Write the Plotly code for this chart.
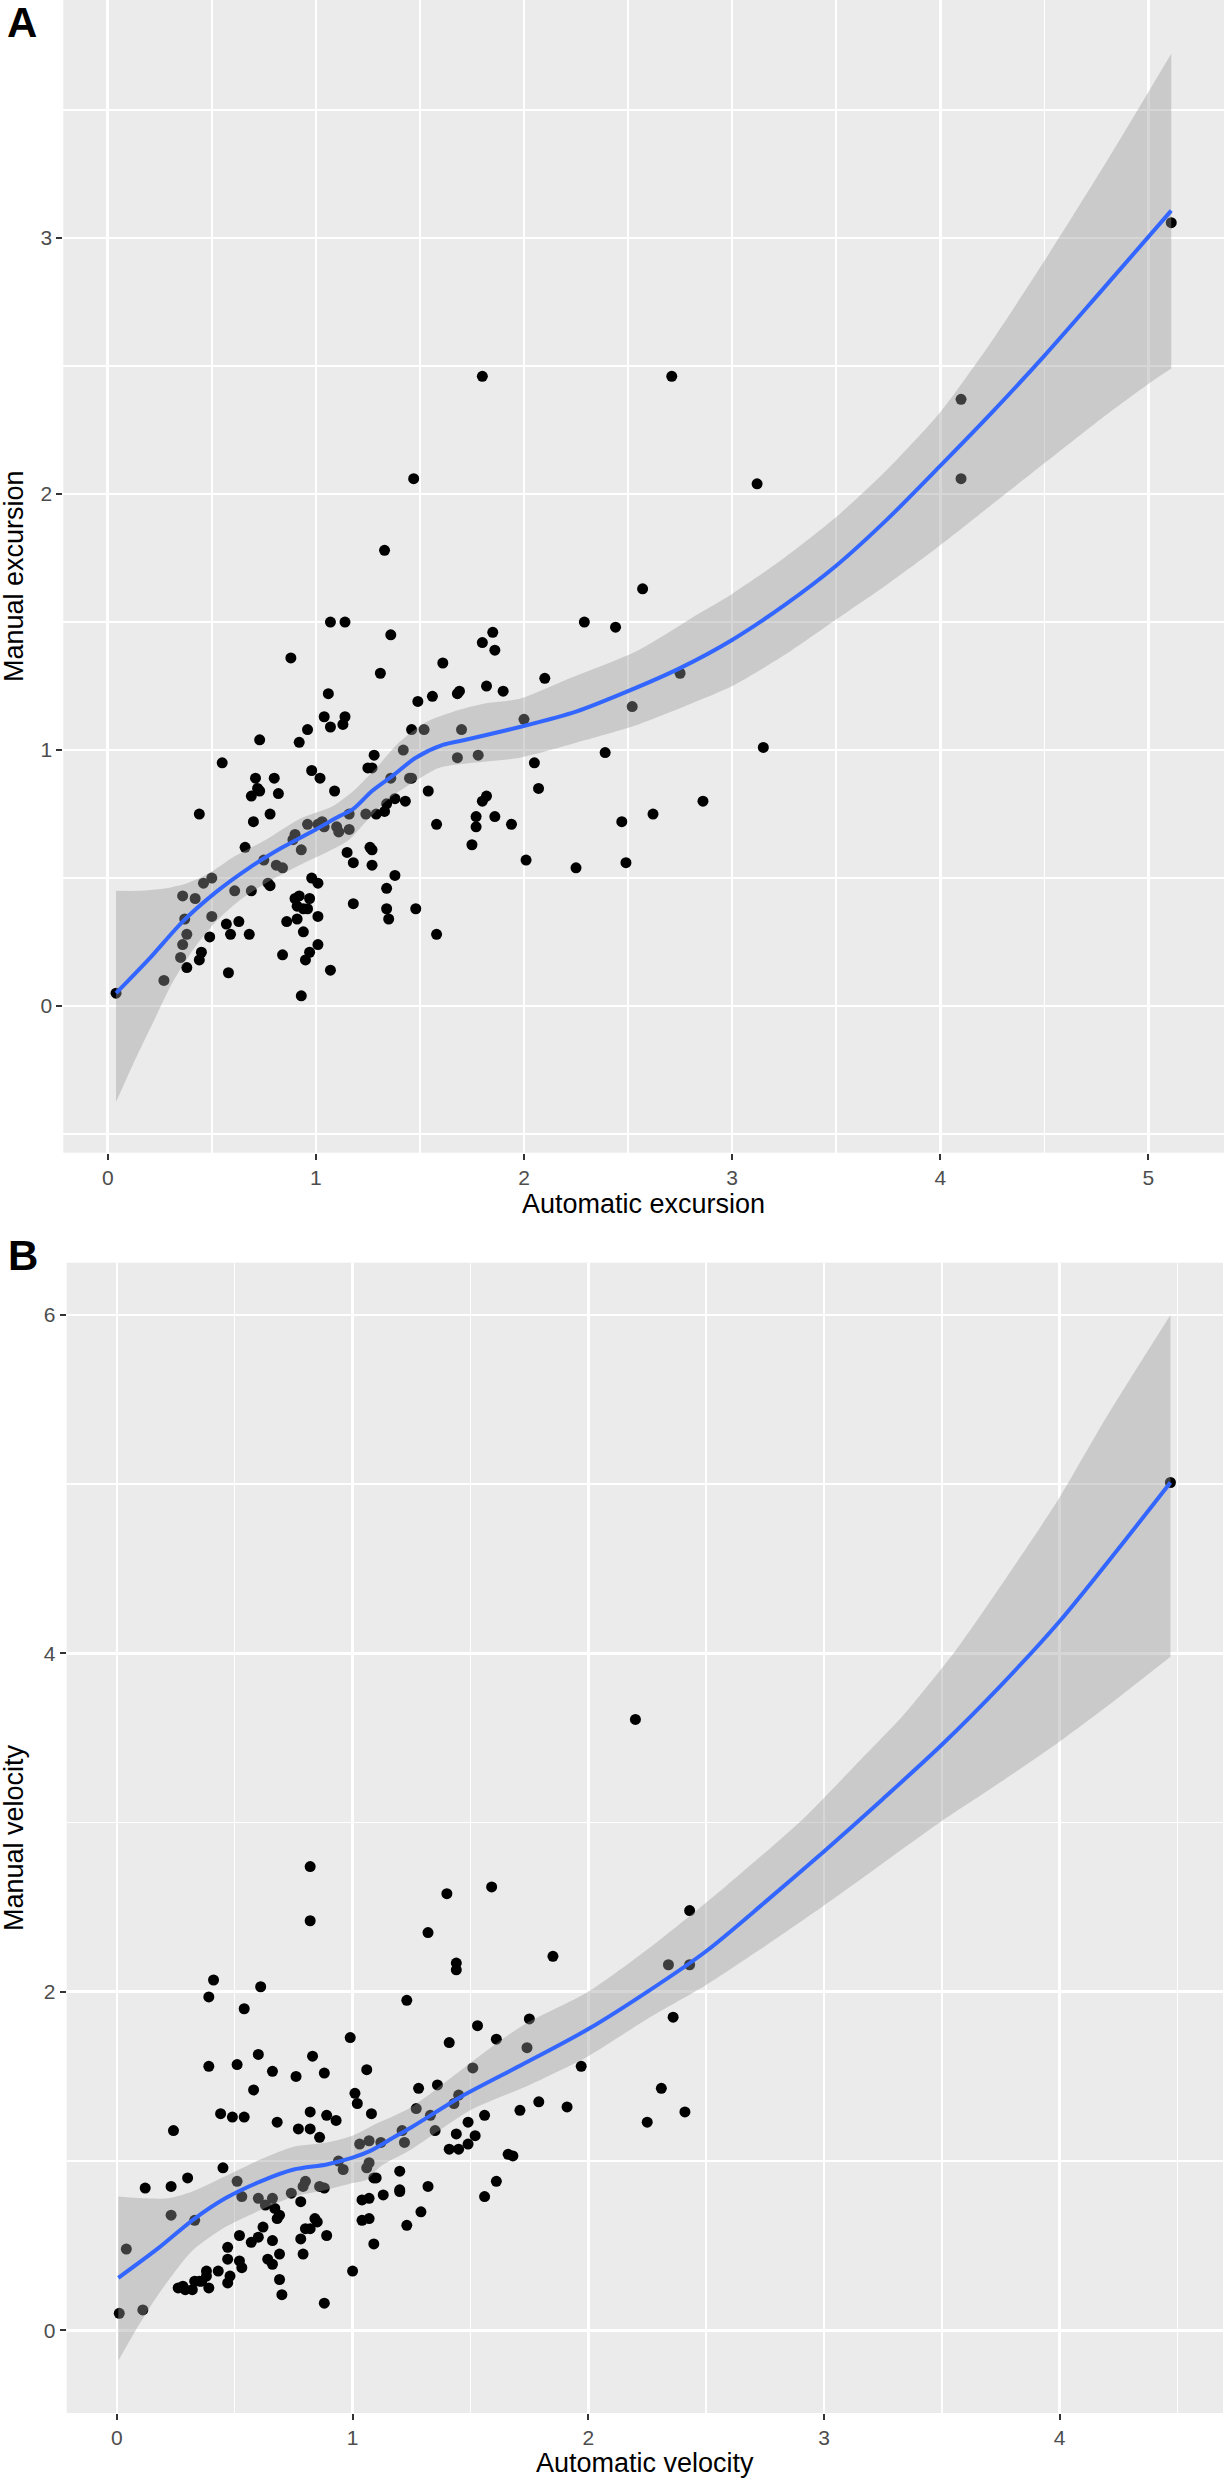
import plotly.graph_objects as go

W, H = 1225, 2480

# ---------------- Panel A: excursion ----------------
exc_auto = [0.04, 0.27, 0.35, 0.36, 0.38, 0.44, 0.45, 0.49, 0.38, 0.37,
            0.36, 0.42, 0.46, 0.50, 0.50, 0.44, 0.55, 0.57, 0.59, 0.58,
            0.61, 0.63, 0.66, 0.68, 0.69, 0.69, 0.71, 0.70, 0.72, 0.73,
            0.73, 0.75, 0.77, 0.78, 0.78, 0.80, 0.82, 0.81, 0.84, 0.84,
            0.86, 0.88, 0.89, 0.90, 0.90, 0.91, 0.91, 0.92, 0.92, 0.93,
            0.94, 0.93, 0.94, 0.95, 0.96, 0.97, 0.97, 0.96, 0.96, 0.98,
            0.98, 1.01, 1.01, 1.01, 1.01, 1.02, 1.03, 1.04, 1.04, 1.06,
            1.07, 1.07, 1.07, 1.09, 1.10, 1.11, 1.13, 1.14, 1.14, 1.15,
            1.16, 1.16, 1.18, 1.18, 1.24, 1.25, 1.26, 1.27, 1.27, 1.27,
            1.28, 1.29, 1.31, 1.33, 1.33, 1.34, 1.34, 1.34, 1.35, 1.36,
            1.36, 1.38, 1.38, 1.42, 1.43, 1.45, 1.46, 1.46, 1.47, 1.48,
            1.49, 1.52, 1.54, 1.56, 1.58, 1.58, 1.61, 1.68, 1.69, 1.68,
            1.70, 1.75, 1.77, 1.77, 1.78, 1.80, 1.80, 1.80, 1.82, 1.82,
            1.85, 1.86, 1.86, 1.90, 1.94, 2.00, 2.01, 2.05, 2.07, 2.10,
            2.25, 2.29, 2.39, 2.44, 2.47, 2.49, 2.52, 2.57, 2.62, 2.71,
            2.75, 2.86, 3.12, 3.15, 4.10, 4.10, 5.11]
exc_manual = [0.05, 0.10, 0.19, 0.24, 0.15, 0.18, 0.21, 0.27, 0.28, 0.34,
              0.43, 0.42, 0.48, 0.50, 0.35, 0.75, 0.95, 0.32, 0.28, 0.13,
              0.45, 0.33, 0.62, 0.28, 0.45, 0.82, 0.89, 0.72, 0.85, 1.04,
              0.84, 0.57, 0.48, 0.47, 0.75, 0.89, 0.83, 0.55, 0.54, 0.20,
              0.33, 1.36, 0.65, 0.67, 0.42, 0.39, 0.34, 0.43, 1.03, 0.61,
              0.38, 0.04, 0.29, 0.18, 0.38, 0.42, 0.21, 1.08, 0.71, 0.92,
              0.50, 0.48, 0.35, 0.24, 0.71, 0.89, 0.72, 0.70, 1.13, 1.22,
              1.09, 0.14, 1.50, 0.84, 0.70, 0.68, 1.10, 1.13, 1.50, 0.60,
              0.75, 0.69, 0.40, 0.56, 0.75, 0.93, 0.62, 0.93, 0.61, 0.55,
              0.98, 0.75, 1.30, 1.78, 0.76, 0.79, 0.46, 0.38, 0.34, 0.89,
              1.45, 0.81, 0.51, 1.00, 0.80, 0.89, 0.89, 1.08, 2.06, 0.38,
              1.19, 1.08, 0.84, 1.21, 0.71, 0.28, 1.34, 1.22, 1.23, 0.97,
              1.08, 0.63, 0.74, 0.70, 0.98, 2.46, 1.42, 0.80, 0.82, 1.25,
              1.46, 1.39, 0.74, 1.23, 0.71, 1.12, 0.57, 0.95, 0.85, 1.28,
              0.54, 1.50, 0.99, 1.48, 0.72, 0.56, 1.17, 1.63, 0.75, 2.46,
              1.30, 0.80, 2.04, 1.01, 2.37, 2.06, 3.06]

exc_fit_x = [0.04, 0.20, 0.36, 0.52, 0.68, 0.84, 1.00, 1.11, 1.18, 1.27,
             1.37, 1.48, 1.61, 1.72, 1.98, 2.25, 2.50, 2.75, 3.00, 3.25,
             3.50, 3.75, 4.00, 4.25, 4.50, 4.77, 5.11]
exc_fit_y = [0.05, 0.185, 0.33, 0.445, 0.54, 0.62, 0.69, 0.74, 0.77, 0.84,
             0.90, 0.97, 1.02, 1.04, 1.09, 1.15, 1.23, 1.32, 1.43, 1.565,
             1.72, 1.905, 2.11, 2.32, 2.54, 2.79, 3.107]

exc_upper_x = [0.04, 0.15, 0.28, 0.38, 0.49, 0.60, 0.76, 0.92, 1.08, 1.18,
               1.29, 1.40, 1.53, 1.66, 1.80, 1.98, 2.22, 2.55, 2.845, 3.00,
               3.25, 3.50, 3.75, 4.00, 4.25, 4.50, 4.80, 5.11]
exc_upper_y = [0.45, 0.45, 0.46, 0.48, 0.52, 0.58, 0.65, 0.73, 0.78, 0.84,
               0.93, 1.03, 1.11, 1.15, 1.18, 1.20, 1.28, 1.39, 1.535, 1.61,
               1.75, 1.91, 2.10, 2.32, 2.60, 2.91, 3.30, 3.72]
exc_lower_x = [0.04, 0.12, 0.22, 0.31, 0.41, 0.52, 0.63, 0.76, 0.92, 1.05,
               1.16, 1.24, 1.35, 1.47, 1.59, 1.75, 1.98, 2.30, 2.55, 2.845,
               3.00, 3.25, 3.50, 3.75, 4.00, 4.25, 4.50, 4.75, 5.00, 5.11]
exc_lower_y = [-0.375, -0.23, -0.06, 0.09, 0.22, 0.33, 0.41, 0.48, 0.55, 0.60,
               0.65, 0.72, 0.81, 0.875, 0.93, 0.95, 0.97, 1.04, 1.10, 1.195,
               1.25, 1.37, 1.51, 1.65, 1.80, 1.96, 2.12, 2.28, 2.43, 2.49]

# ---------------- Panel B: velocity ----------------
vel_auto = [0.01, 0.04, 0.11, 0.12, 0.23, 0.23, 0.24, 0.26, 0.28, 0.29,
            0.30, 0.32, 0.33, 0.33, 0.35, 0.36, 0.38, 0.38, 0.39, 0.39,
            0.39, 0.41, 0.43, 0.44, 0.45, 0.47, 0.47, 0.47, 0.48, 0.49,
            0.51, 0.51, 0.52, 0.52, 0.53, 0.53, 0.54, 0.54, 0.57, 0.58,
            0.60, 0.60, 0.60, 0.61, 0.62, 0.63, 0.64, 0.66, 0.66, 0.66,
            0.66, 0.67, 0.68, 0.68, 0.69, 0.69, 0.69, 0.70, 0.74, 0.76,
            0.77, 0.78, 0.78, 0.79, 0.79, 0.80, 0.80, 0.82, 0.82, 0.82,
            0.82, 0.82, 0.83, 0.84, 0.85, 0.86, 0.86, 0.88, 0.88, 0.88,
            0.89, 0.89, 0.93, 0.94, 0.96, 0.99, 1.00, 1.01, 1.02, 1.03,
            1.04, 1.04, 1.06, 1.06, 1.07, 1.07, 1.07, 1.07, 1.08, 1.09,
            1.09, 1.10, 1.12, 1.13, 1.20, 1.20, 1.20, 1.21, 1.22, 1.23,
            1.23, 1.27, 1.28, 1.29, 1.32, 1.32, 1.33, 1.35, 1.36, 1.40,
            1.41, 1.41, 1.43, 1.44, 1.44, 1.44, 1.45, 1.45, 1.49, 1.49,
            1.51, 1.52, 1.53, 1.56, 1.56, 1.59, 1.61, 1.61, 1.66, 1.68,
            1.71, 1.74, 1.75, 1.79, 1.85, 1.91, 1.97, 2.20, 2.25, 2.31,
            2.34, 2.36, 2.41, 2.43, 2.43, 4.47]
vel_manual = [0.10, 0.48, 0.12, 0.84, 0.85, 0.68, 1.18, 0.25, 0.26, 0.24,
              0.90, 0.24, 0.65, 0.29, 0.29, 0.29, 0.35, 0.32, 0.25, 1.97,
              1.56, 2.07, 0.35, 1.28, 0.96, 0.49, 0.42, 0.28, 0.32, 1.26,
              0.88, 1.57, 0.56, 0.41, 0.79, 0.37, 1.90, 1.26, 0.52, 1.42,
              1.63, 0.78, 0.55, 2.03, 0.61, 0.74, 0.42, 1.53, 0.78, 0.53,
              0.39, 0.72, 0.66, 1.23, 0.45, 0.30, 0.68, 0.21, 0.81, 1.50,
              1.19, 0.76, 0.54, 0.85, 0.45, 0.60, 0.88, 1.29, 1.19, 2.74,
              2.42, 0.60, 1.62, 0.66, 0.64, 0.85, 1.14, 1.52, 0.84, 0.16,
              0.56, 1.27, 1.24, 1.00, 0.95, 1.73, 0.35, 1.40, 1.34, 1.10,
              0.77, 0.65, 1.54, 0.96, 0.99, 1.12, 0.78, 0.66, 1.28, 0.90,
              0.51, 0.90, 1.11, 0.80, 0.94, 0.83, 0.82, 1.18, 1.11, 1.95,
              0.62, 1.31, 1.43, 0.70, 2.35, 0.85, 1.27, 1.18, 1.45, 2.58,
              1.70, 1.07, 1.34, 2.17, 2.13, 1.16, 1.07, 1.39, 1.23, 1.10,
              1.55, 1.15, 1.80, 1.27, 0.79, 2.62, 1.72, 0.88, 1.04, 1.03,
              1.30, 1.67, 1.84, 1.35, 2.21, 1.32, 1.56, 3.61, 1.23, 1.43,
              2.16, 1.85, 1.29, 2.48, 2.16, 5.01]

vel_fit_x = [0.006, 0.18, 0.32, 0.46, 0.61, 0.75, 0.89, 1.00, 1.075, 1.175,
             1.25, 1.46, 1.72, 2.00, 2.25, 2.50, 2.75, 3.00, 3.25, 3.50,
             3.75, 4.00, 4.25, 4.47]
vel_fit_y = [0.31, 0.49, 0.65, 0.78, 0.88, 0.95, 0.98, 1.02, 1.06, 1.14,
             1.20, 1.38, 1.57, 1.78, 2.00, 2.24, 2.53, 2.83, 3.14, 3.46,
             3.81, 4.19, 4.62, 5.01]

vel_upper_x = [0.006, 0.11, 0.22, 0.32, 0.46, 0.61, 0.75, 0.89, 1.00, 1.10,
               1.25, 1.50, 1.72, 2.00, 2.26, 2.58, 2.91, 3.12, 3.34, 3.56,
               3.77, 3.99, 4.20, 4.47]
vel_upper_y = [0.79, 0.78, 0.78, 0.82, 0.91, 1.01, 1.085, 1.11, 1.15, 1.22,
               1.32, 1.58, 1.80, 2.00, 2.26, 2.62, 3.02, 3.32, 3.64, 4.02,
               4.44, 4.90, 5.40, 6.00]
vel_lower_x = [0.006, 0.08, 0.18, 0.32, 0.46, 0.61, 0.75, 0.89, 1.00, 1.06,
               1.12, 1.25, 1.50, 1.75, 2.00, 2.25, 2.50, 2.75, 3.00, 3.25,
               3.50, 3.75, 4.00, 4.25, 4.47]
vel_lower_y = [-0.18, 0.00, 0.22, 0.47, 0.61, 0.71, 0.79, 0.83, 0.87, 0.89,
               0.97, 1.07, 1.30, 1.45, 1.62, 1.84, 2.04, 2.27, 2.51, 2.76,
               3.01, 3.24, 3.48, 3.74, 3.98]

FONT = "Liberation Sans, Arial, Helvetica, sans-serif"
BAND = "rgba(153,153,153,0.4)"
LINE = "#3366FF"

fig = go.Figure()


def add_panel(xs, ys, fx, fy, ux, uy, lx, ly, xa, ya):
    fig.add_trace(go.Scatter(x=xs, y=ys, mode="markers", xaxis=xa, yaxis=ya,
                             marker=dict(color="black", size=11, line=dict(width=0)),
                             showlegend=False, hoverinfo="skip"))
    fig.add_trace(go.Scatter(x=lx, y=ly, mode="lines", xaxis=xa, yaxis=ya,
                             line=dict(width=0, color="rgba(0,0,0,0)",
                                       shape="spline", smoothing=0.7),
                             showlegend=False, hoverinfo="skip"))
    fig.add_trace(go.Scatter(x=ux, y=uy, mode="lines", xaxis=xa, yaxis=ya,
                             fill="tonexty", fillcolor=BAND,
                             line=dict(width=0, color="rgba(0,0,0,0)",
                                       shape="spline", smoothing=0.7),
                             showlegend=False, hoverinfo="skip"))
    fig.add_trace(go.Scatter(x=fx, y=fy, mode="lines", xaxis=xa, yaxis=ya,
                             line=dict(color=LINE, width=4, shape="spline", smoothing=0.8),
                             showlegend=False, hoverinfo="skip"))


add_panel(exc_auto, exc_manual, exc_fit_x, exc_fit_y,
          exc_upper_x, exc_upper_y, exc_lower_x, exc_lower_y, "x", "y")
add_panel(vel_auto, vel_manual, vel_fit_x, vel_fit_y,
          vel_upper_x, vel_upper_y, vel_lower_x, vel_lower_y, "x2", "y2")


def axis(domain, rng, dtick, minor_dtick, anchor):
    return dict(domain=domain, range=rng, anchor=anchor,
                tickmode="linear", tick0=0, dtick=dtick,
                showgrid=True, gridcolor="white", gridwidth=2.7,
                zeroline=False, showline=False,
                ticks="outside", ticklen=6, tickwidth=2, tickcolor="#333333",
                tickfont=dict(family=FONT, size=21, color="#4D4D4D"),
                minor=dict(tick0=0, dtick=minor_dtick, showgrid=True,
                           gridcolor="white", gridwidth=1.4, ticks=""),
                fixedrange=True)


fig.update_layout(
    width=W, height=H,
    margin=dict(l=0, r=0, t=0, b=0),
    paper_bgcolor="white", plot_bgcolor="#EBEBEB",
    xaxis=axis([63.3 / W, 1224 / W], [-0.2135, 5.3635], 1, 0.5, "y"),
    yaxis=axis([1 - 1152.7 / H, 1.0], [-0.573, 3.93], 1, 0.5, "x"),
    xaxis2=axis([66.7 / W, 1223 / W], [-0.213, 4.693], 1, 0.5, "y2"),
    yaxis2=axis([1 - 2413 / H, 1 - 1262.7 / H], [-0.489, 6.309], 2, 1, "x2"),
    font=dict(family=FONT),
)

ann = []
for text, x, y, size, bold, angle in [
    ("A", 5 / W, 1 - 22 / H, 42, True, 0),
    ("B", 6 / W, 1 - 1255 / H, 42, True, 0),
    ("Automatic excursion", 643.7 / W, 1 - 1204 / H, 27, False, 0),
    ("Automatic velocity", 644.9 / W, 1 - 2463 / H, 27, False, 0),
    ("Manual excursion", 14 / W, 1 - 576 / H, 27, False, -90),
    ("Manual velocity", 14 / W, 1 - 1838 / H, 27, False, -90),
]:
    ann.append(dict(text=f"<b>{text}</b>" if bold else text,
                    x=x, y=y, xref="paper", yref="paper",
                    xanchor="left" if bold else "center", yanchor="middle",
                    textangle=angle, showarrow=False,
                    font=dict(family=FONT, size=size, color="black")))
fig.update_layout(annotations=ann)

fig.write_html("out.html",
               config={"displayModeBar": False, "staticPlot": True},
               post_script="document.body.style.margin='0';document.body.style.padding='0';")
